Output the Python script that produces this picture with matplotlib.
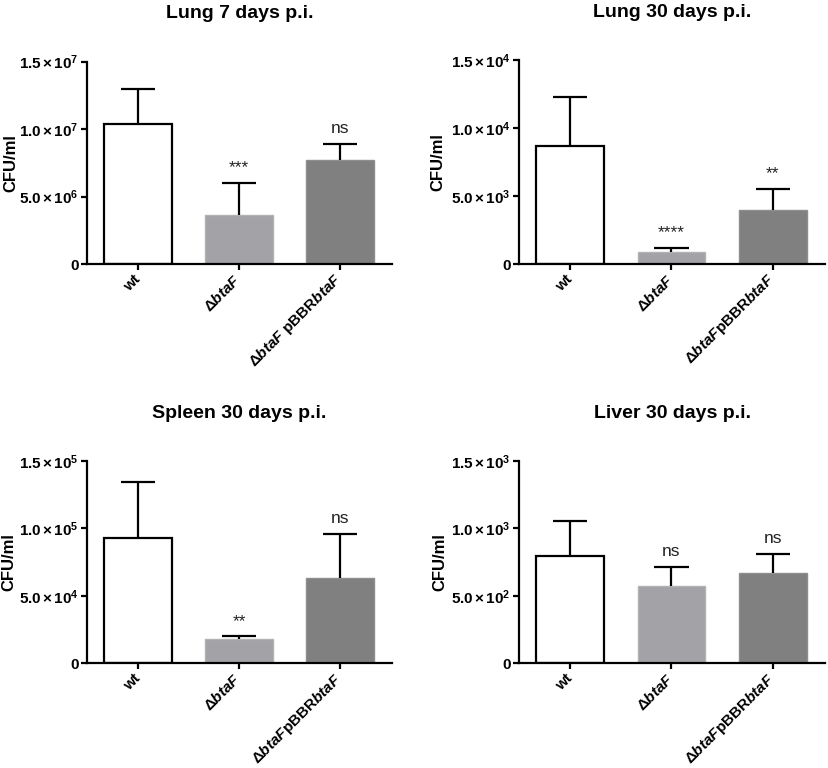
import matplotlib
matplotlib.use("Agg")
import matplotlib.pyplot as plt
import numpy as np

plt.rcParams['font.family'] = ['Liberation Sans', 'DejaVu Sans']
plt.rcParams['mathtext.fontset'] = 'custom'
plt.rcParams['mathtext.rm'] = 'Liberation Sans:bold'
plt.rcParams['mathtext.bf'] = 'Liberation Sans:bold'
plt.rcParams['mathtext.it'] = 'Liberation Sans:italic:bold'
plt.rcParams['mathtext.default'] = 'rm'

# ---- data ----
titles = ["Lung 7 days p.i.", "Lung 30 days p.i.", "Spleen 30 days p.i.", "Liver 30 days p.i."]
xlabels_lung7 = ["wt", r"Δ$\mathit{btaF}$", r"Δ$\mathit{btaF}$ pBBR$\mathit{btaF}$"]
xlabels_other = ["wt", r"Δ$\mathit{btaF}$", r"Δ$\mathit{btaF}$pBBR$\mathit{btaF}$"]

lung7_mean = [1.037e7, 3.65e6, 7.68e6]
lung7_err = [2.59e6, 2.36e6, 1.21e6]
lung30_mean = [8700, 907, 3995]
lung30_err = [3580, 269, 1544]
spleen_mean = [9.30e4, 1.78e4, 6.32e4]
spleen_err = [4.15e4, 2.2e3, 3.28e4]
liver_mean = [793, 572, 668]
liver_err = [258, 140, 142]

lung7_sig = ["", "***", "ns"]
lung30_sig = ["", "****", "**"]
spleen_sig = ["", "**", "ns"]
liver_sig = ["", "ns", "ns"]

lung7_yticks = [0, 5.0e6, 1.0e7, 1.5e7]
lung7_yticklabels = ["0", r"$5.0\,{\times}\,10^{6}$", r"$1.0\,{\times}\,10^{7}$", r"$1.5\,{\times}\,10^{7}$"]
lung30_yticks = [0, 5.0e3, 1.0e4, 1.5e4]
lung30_yticklabels = ["0", r"$5.0\,{\times}\,10^{3}$", r"$1.0\,{\times}\,10^{4}$", r"$1.5\,{\times}\,10^{4}$"]
spleen_yticks = [0, 5.0e4, 1.0e5, 1.5e5]
spleen_yticklabels = ["0", r"$5.0\,{\times}\,10^{4}$", r"$1.0\,{\times}\,10^{5}$", r"$1.5\,{\times}\,10^{5}$"]
liver_yticks = [0, 5.0e2, 1.0e3, 1.5e3]
liver_yticklabels = ["0", r"$5.0\,{\times}\,10^{2}$", r"$1.0\,{\times}\,10^{3}$", r"$1.5\,{\times}\,10^{3}$"]

face_colors = ["white", "#a3a2a7", "#808080"]
edge_colors = ["black", "#b2b2b6", "#8e8e8e"]
edge_widths = [1.6, 1.0, 1.0]

panels = [
    (lung7_mean, lung7_err, lung7_sig, xlabels_lung7, lung7_yticks, lung7_yticklabels),
    (lung30_mean, lung30_err, lung30_sig, xlabels_other, lung30_yticks, lung30_yticklabels),
    (spleen_mean, spleen_err, spleen_sig, xlabels_other, spleen_yticks, spleen_yticklabels),
    (liver_mean, liver_err, liver_sig, xlabels_other, liver_yticks, liver_yticklabels),
]

fig = plt.figure(figsize=(8.29, 7.68), dpi=100)
W, H = 829, 768
boxes = [
    (87, 61.5, 392, 264),
    (519, 60.5, 825, 264),
    (87, 460.7, 392, 663.3),
    (519, 460.7, 825, 663.3),
]
ylabel_x = [-0.226, -0.242, -0.23, -0.235]
cap_half = 0.168

for i, ((mean, err, sig, xl, yt, ytl), (x0, y0, x1, y1)) in enumerate(zip(panels, boxes)):
    ax = fig.add_axes([x0 / W, 1 - y1 / H, (x1 - x0) / W, (y1 - y0) / H])
    x = np.arange(3)
    mean = np.array(mean, dtype=float)
    err = np.array(err, dtype=float)
    top = mean + err
    for j in range(3):
        ax.bar(x[j], mean[j], width=0.67, color=face_colors[j],
               edgecolor=edge_colors[j], linewidth=edge_widths[j], zorder=2)
    ax.vlines(x, mean, top, colors='black', linewidth=1.6, zorder=3)
    ax.hlines(top, x - cap_half, x + cap_half, colors='black', linewidth=1.6, zorder=3)
    for j in range(3):
        if sig[j]:
            ax.annotate(sig[j], (x[j], top[j]), xytext=(0, 5.5),
                        textcoords='offset points', ha='center', va='bottom',
                        fontsize=12.5, fontweight='normal', color='#222222')
    ax.set_xlim(-0.505, 2.515)
    ax.set_ylim(0, yt[-1])
    ax.set_yticks(yt)
    ax.set_yticklabels(ytl, fontsize=11, fontweight='bold')
    ax.set_xticks(x)
    ax.set_xticklabels(xl, rotation=45, ha='right', va='center',
                       rotation_mode='anchor', fontsize=11, fontweight='bold')
    for s in ['top', 'right']:
        ax.spines[s].set_visible(False)
    for s in ['left', 'bottom']:
        ax.spines[s].set_linewidth(1.6)
    ax.tick_params(axis='both', direction='out', length=4.5, width=1.6)
    ax.tick_params(axis='y', pad=1.5)
    ax.tick_params(axis='x', pad=5)
    ax.set_ylabel("CFU/ml", fontsize=12, fontweight='bold')
    ax.yaxis.set_label_coords(ylabel_x[i], 0.5)
    ax.set_title(titles[i], fontsize=14, fontweight='bold', pad=31)

fig.savefig("out.png", dpi=100, facecolor='white')
